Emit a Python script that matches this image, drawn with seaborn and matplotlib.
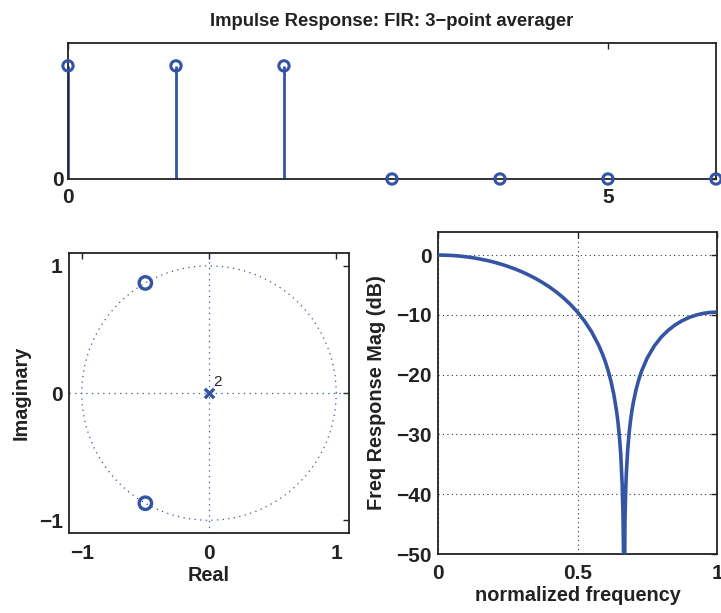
import numpy as np
import pandas as pd
import matplotlib
matplotlib.use("Agg")
import matplotlib.pyplot as plt
import seaborn as sns

# ---- data ----
n_idx = [0, 1, 2, 3, 4, 5, 6]
h_vals = [1/3, 1/3, 1/3, 0, 0, 0, 0]

zeros_re = [-0.5, -0.5]
zeros_im = [0.866, -0.866]
poles_re = [0.0]
poles_im = [0.0]
pole_mult_label = "2"

freq = [0.0, 0.025, 0.05, 0.075, 0.1, 0.125, 0.15, 0.175, 0.2, 0.225, 0.25,
        0.275, 0.3, 0.325, 0.35, 0.375, 0.4, 0.425, 0.45, 0.475, 0.5, 0.525,
        0.55, 0.575, 0.59, 0.6, 0.61, 0.62, 0.63, 0.64, 0.645, 0.65, 0.655,
        0.66, 0.663, 0.665, 0.6667, 0.67, 0.673, 0.675, 0.68, 0.685, 0.69,
        0.695, 0.7, 0.71, 0.72, 0.73, 0.75, 0.775, 0.8, 0.825, 0.85, 0.875,
        0.9, 0.925, 0.95, 0.975, 1.0]
mag_db = [0.0, -0.02, -0.07, -0.16, -0.29, -0.45, -0.66, -0.90, -1.18, -1.51,
          -1.89, -2.31, -2.79, -3.33, -3.93, -4.61, -5.36, -6.21, -7.18, -8.28,
          -9.54, -11.03, -12.80, -15.01, -16.63, -17.90, -19.37, -21.12, -23.28,
          -26.11, -27.95, -30.27, -33.40, -38.32, -43.5, -50.5, -70.0, -44.4,
          -38.86, -36.44, -32.44, -29.71, -27.66, -26.02, -24.65, -22.47,
          -20.76, -19.37, -17.20, -15.21, -13.72, -12.58, -11.68, -10.98,
          -10.44, -10.04, -9.76, -9.60, -9.54]

title = "Impulse Response: FIR: 3\u2212point averager"

BLUE = "#3454a4"
INK = "#222222"

sns.set_theme(style="white")
plt.rcParams["font.family"] = ["Liberation Sans", "DejaVu Sans"]
plt.rcParams["font.weight"] = "bold"
plt.rcParams["axes.labelweight"] = "bold"
plt.rcParams["xtick.direction"] = "in"
plt.rcParams["ytick.direction"] = "in"
plt.rcParams["axes.edgecolor"] = INK
plt.rcParams["axes.linewidth"] = 1.3

fig = plt.figure(figsize=(7.21, 6.13), dpi=100)

TICKFS = 15
LABFS = 14.3
TITLEFS = 13.3

def style_ax(ax, xpad, ypad):
    ax.tick_params(axis="both", which="both", direction="in", top=True, right=True,
                   length=4, width=1.0, labelsize=TICKFS, colors=INK)
    ax.tick_params(axis="x", pad=xpad)
    ax.tick_params(axis="y", pad=ypad)
    for lab in ax.get_xticklabels() + ax.get_yticklabels():
        lab.set_fontweight("bold")
    for s in ax.spines.values():
        s.set_visible(True)
        s.set_color(INK)

# ---- top: impulse response stem ----
ax1 = fig.add_axes([0.0943, 0.708, 0.8987, 0.222])
df_h = pd.DataFrame({"n": n_idx, "h": h_vals})
ax1.vlines(df_h["n"], 0, df_h["h"], color=BLUE, lw=2.0, zorder=2)
sns.scatterplot(data=df_h, x="n", y="h", ax=ax1, marker="o", s=55,
                facecolor="none", edgecolor=BLUE, linewidth=2.2, zorder=3,
                clip_on=False, legend=False)
ax1.set_xlim(0, 6)
ax1.set_ylim(0, 0.401)
ax1.set_xticks([0, 5])
ax1.set_yticks([0])
ax1.set_xlabel("")
ax1.set_ylabel("")
ax1.set_title(title, fontsize=TITLEFS, fontweight="bold", pad=12, color=INK)
style_ax(ax1, xpad=6.5, ypad=3)

# ---- bottom-left: pole-zero plot ----
ax2 = fig.add_axes([0.0957, 0.1305, 0.3883, 0.4565])
theta = np.linspace(0, 2 * np.pi, 100)
ax2.plot(np.cos(theta), np.sin(theta), ls=(0, (1, 3.5)), color=BLUE, lw=0.9)
ax2.axhline(0, ls=(0, (1, 3.5)), color=BLUE, lw=0.9)
ax2.axvline(0, ls=(0, (1, 3.5)), color=BLUE, lw=0.9)
df_z = pd.DataFrame({"re": zeros_re, "im": zeros_im})
df_p = pd.DataFrame({"re": poles_re, "im": poles_im})
sns.scatterplot(data=df_z, x="re", y="im", ax=ax2, marker="o", s=80,
                facecolor="none", edgecolor=BLUE, linewidth=2.4, zorder=3, legend=False)
sns.scatterplot(data=df_p, x="re", y="im", ax=ax2, marker="x", s=45,
                color=BLUE, linewidth=2.4, zorder=3, legend=False)
ax2.text(poles_re[0] + 0.03, poles_im[0] + 0.03, pole_mult_label, fontsize=11,
         fontweight="normal", color=INK, ha="left", va="bottom")
ax2.set_xlim(-1.1, 1.1)
ax2.set_ylim(-1.1, 1.1)
ax2.set_xticks([-1, 0, 1])
ax2.set_yticks([-1, 0, 1])
ax2.set_xticklabels(["\u22121", "0", "1"])
ax2.set_yticklabels(["\u22121", "0", "1"])
ax2.set_xlabel("Real", fontsize=LABFS, fontweight="bold", labelpad=2, color=INK)
ax2.set_ylabel("Imaginary", fontsize=LABFS, fontweight="bold", labelpad=6, color=INK)
style_ax(ax2, xpad=8, ypad=4.5)

# ---- bottom-right: frequency response ----
ax3 = fig.add_axes([0.6075, 0.0962, 0.387, 0.5253])
df_f = pd.DataFrame({"f": freq, "db": mag_db})
sns.lineplot(data=df_f, x="f", y="db", ax=ax3, color=BLUE, lw=2.6, zorder=3)
ax3.set_xlim(0, 1)
ax3.set_ylim(-50, 3.85)
ax3.set_xticks([0, 0.5, 1])
ax3.set_xticklabels(["0", "0.5", "1"])
ax3.set_yticks([-50, -40, -30, -20, -10, 0])
ax3.set_yticklabels(["\u221250", "\u221240", "\u221230", "\u221220", "\u221210", "0"])
ax3.grid(True, ls=(0, (1, 3)), color="#333333", lw=0.8)
ax3.set_xlabel("normalized frequency", fontsize=LABFS, fontweight="bold", labelpad=2, color=INK)
ax3.set_ylabel("Freq Response Mag (dB)", fontsize=LABFS, fontweight="bold", labelpad=7, color=INK)
style_ax(ax3, xpad=7.5, ypad=4.5)

fig.savefig("out.png", dpi=100)
